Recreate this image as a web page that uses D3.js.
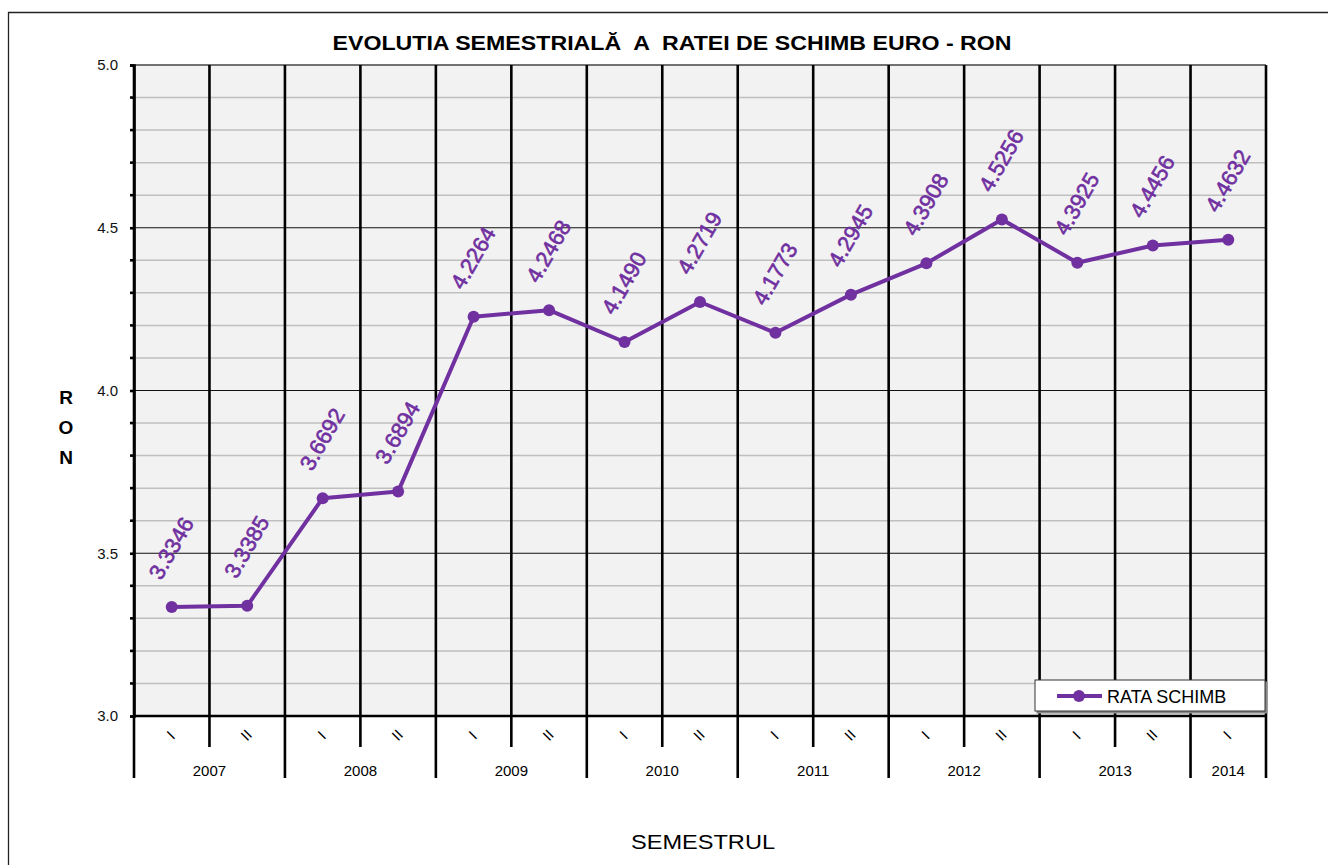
<!DOCTYPE html>
<html>
<head>
<meta charset="utf-8">
<script src="https://cdn.jsdelivr.net/npm/d3@7/dist/d3.min.js"></script>
<style>
  body { margin: 0; background: #fff; }
  text { font-family: Arial, "Liberation Sans", sans-serif; }
</style>
</head>
<body>
<svg></svg>
<script>
// semesters and exchange rate values
var semesters = ["I","II","I","II","I","II","I","II","I","II","I","II","I","II","I"];
var years = ["2007","2008","2009","2010","2011","2012","2013","2014"];
var rates = [3.3346,3.3385,3.6692,3.6894,4.2264,4.2468,4.1490,4.2719,4.1773,4.2945,4.3908,4.5256,4.3925,4.4456,4.4632];
var yTicks = [3.0,3.5,4.0,4.5,5.0];

var screen = { width: 1328, height: 865 };
var svg = d3.select("svg")
  .attr("width", screen.width)
  .attr("height", screen.height);

var margins = { top: 65, left: 134, right: 62, bottom: 149 };
var width = screen.width - margins.left - margins.right;
var height = screen.height - margins.top - margins.bottom;

// outer frame
svg.append("path")
  .attr("d", "M8.5,866 L8.5,12.5 L1330,12.5")
  .attr("fill", "none")
  .attr("stroke", "#222")
  .attr("stroke-width", 1.3);

var xScale = d3.scaleLinear().domain([0, semesters.length]).range([0, width]);
var yScale = d3.scaleLinear().domain([3, 5]).range([height, 0]);

var plot = svg.append("g")
  .attr("transform", "translate(" + margins.left + "," + margins.top + ")");

plot.append("rect")
  .attr("width", width).attr("height", height)
  .attr("fill", "#f2f2f2");

// minor gridlines
var minor = d3.range(31, 50).map(function(d) { return d / 10; })
  .filter(function(d) { return Math.abs(d * 2 - Math.round(d * 2)) > 0.01; });
plot.selectAll(".minor")
  .data(minor).enter().append("line")
  .attr("x1", 0).attr("x2", width)
  .attr("y1", function(d) { return yScale(d); })
  .attr("y2", function(d) { return yScale(d); })
  .attr("stroke", "#bfbfbf").attr("stroke-width", 1.5);

// major gridlines
plot.selectAll(".major")
  .data([3.5, 4.0, 4.5]).enter().append("line")
  .attr("x1", 0).attr("x2", width)
  .attr("y1", function(d) { return yScale(d); })
  .attr("y2", function(d) { return yScale(d); })
  .attr("stroke", "#111").attr("stroke-width", 1.2);

plot.append("line")
  .attr("x1", 0).attr("x2", width)
  .attr("y1", yScale(5)).attr("y2", yScale(5))
  .attr("stroke", "#444").attr("stroke-width", 1.5);

// vertical category lines, longer at year boundaries
var bounds = d3.range(0, semesters.length + 1);
plot.selectAll(".vline")
  .data(bounds).enter().append("line")
  .attr("x1", function(d) { return xScale(d); })
  .attr("x2", function(d) { return xScale(d); })
  .attr("y1", 0)
  .attr("y2", function(d) { return (d % 2 == 0 || d == semesters.length) ? height + 62 : height + 31; })
  .attr("stroke", "#000").attr("stroke-width", 2.6);

// x axis line
plot.append("line")
  .attr("x1", 0).attr("x2", width)
  .attr("y1", height).attr("y2", height)
  .attr("stroke", "#000").attr("stroke-width", 2.6);

// y axis
var yAxis = d3.axisLeft(yScale).tickValues(yTicks).tickFormat(d3.format(".1f")).tickSize(4).tickPadding(12);
var yg = plot.append("g").call(yAxis);
yg.select(".domain").attr("stroke", "#000").attr("stroke-width", 2.6);
yg.selectAll(".tick line").attr("stroke", "#000").attr("stroke-width", 2.6);
yg.selectAll(".tick text").attr("font-size", 15).attr("fill", "#111")
  .attr("font-family", "Arial, 'Liberation Sans', sans-serif");
plot.selectAll(".ytick-minor")
  .data(minor).enter().append("line")
  .attr("x1", -4).attr("x2", 0)
  .attr("y1", function(d) { return yScale(d); })
  .attr("y2", function(d) { return yScale(d); })
  .attr("stroke", "#000").attr("stroke-width", 2.6);

// semester labels
plot.selectAll(".sem")
  .data(semesters).enter().append("text")
  .attr("transform", function(d, i) {
    return "translate(" + xScale(i + 0.5) + "," + (height + 20) + ") rotate(-45)";
  })
  .attr("text-anchor", "middle")
  .attr("dominant-baseline", "middle")
  .attr("font-size", 15)
  .attr("fill", "#000")
  .text(function(d) { return d; });

// year labels
plot.selectAll(".year")
  .data(years).enter().append("text")
  .attr("x", function(d, i) {
    var n = (i == years.length - 1) ? 1 : 2;
    return xScale(i * 2 + n / 2);
  })
  .attr("y", height + 60)
  .attr("text-anchor", "middle")
  .attr("font-size", 15)
  .attr("fill", "#000")
  .text(function(d) { return d; });

// line and markers
var purple = "#7030a0";
var line = d3.line()
  .x(function(d, i) { return xScale(i + 0.5); })
  .y(function(d) { return yScale(d); });

plot.append("path")
  .datum(rates)
  .attr("d", line)
  .attr("fill", "none")
  .attr("stroke", purple)
  .attr("stroke-width", 4)
  .attr("stroke-linejoin", "round");

plot.selectAll(".pt")
  .data(rates).enter().append("circle")
  .attr("cx", function(d, i) { return xScale(i + 0.5); })
  .attr("cy", function(d) { return yScale(d); })
  .attr("r", 6)
  .attr("fill", purple);

plot.selectAll(".lbl")
  .data(rates).enter().append("text")
  .attr("transform", function(d, i) {
    return "translate(" + (xScale(i + 0.5) + 1) + "," + (yScale(d) - 58) + ") rotate(-60)";
  })
  .attr("text-anchor", "middle")
  .attr("dominant-baseline", "middle")
  .attr("font-family", "Lato, 'Open Sans', sans-serif")
  .attr("font-size", 22)
  .attr("fill", purple)
  .attr("stroke", purple).attr("stroke-width", 0.6)
  .text(function(d) { return d.toFixed(4); });

// legend
var legend = plot.append("g")
  .attr("transform", "translate(" + (width - 231) + "," + (height - 36) + ")");
legend.append("rect")
  .attr("x", 1.5).attr("y", 1.5).attr("width", 231).attr("height", 32)
  .attr("fill", "#888");
legend.append("rect")
  .attr("width", 230).attr("height", 31)
  .attr("fill", "#fff").attr("stroke", "#333").attr("stroke-width", 1);
legend.append("line")
  .attr("x1", 22).attr("x2", 67).attr("y1", 16).attr("y2", 16)
  .attr("stroke", purple).attr("stroke-width", 4);
legend.append("circle")
  .attr("cx", 44).attr("cy", 16).attr("r", 6).attr("fill", purple);
legend.append("text")
  .attr("x", 72).attr("y", 23)
  .attr("font-size", 18).attr("fill", "#000")
  .text("RATA SCHIMB");

// titles
svg.append("text")
  .attr("x", 672).attr("y", 50)
  .attr("text-anchor", "middle")
  .attr("font-size", 21).attr("font-weight", "bold")
  .style("white-space", "pre")
  .attr("textLength", 679).attr("lengthAdjust", "spacingAndGlyphs")
  .text("EVOLUTIA SEMESTRIALĂ  A  RATEI DE SCHIMB EURO - RON");

svg.append("text")
  .attr("x", 703).attr("y", 849)
  .attr("text-anchor", "middle")
  .attr("font-size", 21)
  .attr("textLength", 144).attr("lengthAdjust", "spacingAndGlyphs")
  .text("SEMESTRUL");

svg.selectAll(".ron")
  .data(["R", "O", "N"]).enter().append("text")
  .attr("x", 66)
  .attr("y", function(d, i) { return 404 + i * 30; })
  .attr("text-anchor", "middle")
  .attr("font-size", 19).attr("font-weight", "bold")
  .text(function(d) { return d; });
</script>
</body>
</html>
